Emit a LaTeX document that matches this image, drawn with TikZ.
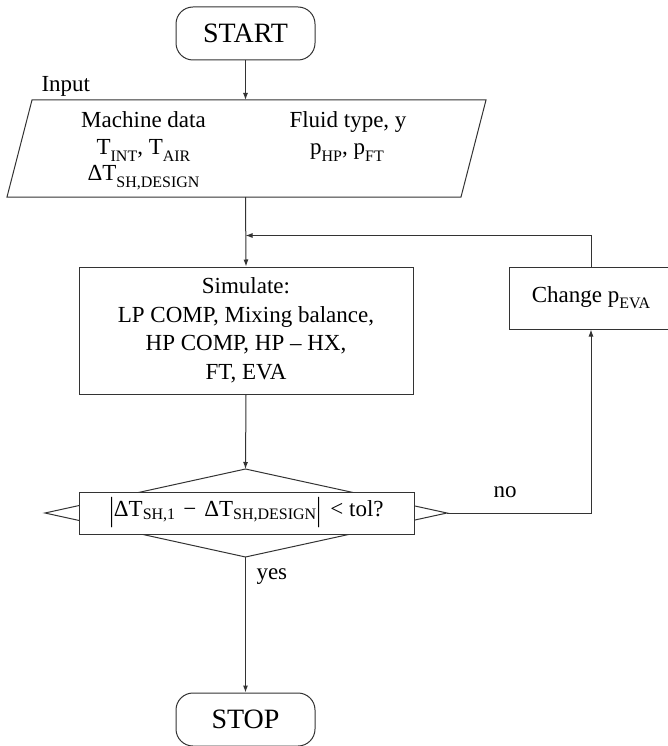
\documentclass[tikz,border=0pt]{standalone}
\usepackage{fontspec}
\setmainfont{Liberation Serif}
\usetikzlibrary{arrows.meta}
\newcommand\lsub[1]{\raisebox{-6pt}{\fontsize{16}{16}\selectfont #1}}
\newcommand\dsub[1]{\raisebox{-3pt}{\fontsize{16}{16}\selectfont #1}}
\newcommand\tallbar{\raisebox{-4.5pt}{\scalebox{1}[1.45]{|}}}
\begin{document}
\begin{tikzpicture}[x=1pt,y=-1pt,line width=1pt,
  txt/.style={font=\fontsize{23}{28.5}\selectfont, inner sep=0pt},
  big/.style={font=\fontsize{28}{32}\selectfont},
  term/.style={draw=black!80, rounded corners=17pt, minimum width=139pt, minimum height=53pt, big},
  boxnode/.style={draw=black!80, txt, align=center},
  arr/.style={draw=black!80, -{Latex[length=7pt,width=5pt]}},
  ln/.style={draw=black!80}]
\useasboundingbox (0,0) rectangle (668,746);
% terminals
\node[term] (start) at (245.5,33.5) {START};
\node[term] (stop) at (245.5,719.5) {STOP};
% input parallelogram
\draw[ln] (32,100) -- (486,100) -- (461,197) -- (7,197) -- cycle;
\coordinate (inptop) at (245.5,100);
\coordinate (inpbot) at (245.5,197);
\node[txt, anchor=base west] (inlbl) at (41,92) {Input};
\node[txt, anchor=base] (m1) at (143.5,128) {Machine data};
\node[txt, anchor=base] (m2) at (143.5,155) {T\lsub{INT}, T\lsub{AIR}};
\node[txt, anchor=base] (m3) at (143.5,181) {ΔT\lsub{SH,DESIGN}};
\node[txt, anchor=base] (f1) at (348,128) {Fluid type, y};
\node[txt, anchor=base] (f2) at (347,155) {p\lsub{HP}, p\lsub{FT}};
% simulate
\node[boxnode, minimum width=334pt, minimum height=127pt] (sim) at (246,330.5)
  {Simulate:\\LP COMP, Mixing balance,\\HP COMP, HP – HX,\\FT, EVA};
\coordinate (join) at (245.5,235.5);
% change
\node[boxnode, minimum width=164pt, minimum height=62pt] (chg) at (591,298) {Change p\lsub{EVA}};
% decision
\coordinate (dtop) at (245.5,469);
\coordinate (dright) at (447,513);
\coordinate (dbot) at (245.5,557);
\coordinate (dleft) at (45,513);
\draw[ln] (dtop) -- (dright) -- (dbot) -- (dleft) -- cycle;
\node[boxnode, fill=white, minimum width=335pt, minimum height=42pt] (cond) at (246.5,513)
  {\tallbar ΔT\dsub{SH,1}\hspace{0.35em}−\hspace{0.35em}ΔT\dsub{SH,DESIGN}\tallbar\ \,<\ tol?};
% connectors
\draw[arr] (start.south) -- (inptop);
\draw[arr] (inpbot) -- (sim.north);
\draw[arr] (chg.north) |- (join);
\draw[arr] (sim.south) -- (dtop);
\draw[arr] (dright) -| (chg.south);
\draw[arr] (dbot) -- (stop.north);
\node[txt, anchor=base] (nolbl) at (505,497) {no};
\node[txt, anchor=base west] (yeslbl) at (256,579) {yes};
\end{tikzpicture}
\end{document}
